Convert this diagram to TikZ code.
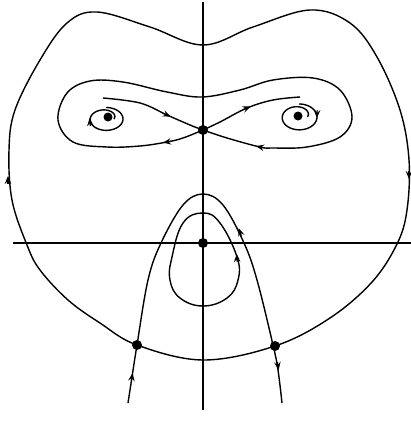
\documentclass[tikz,border=0pt]{standalone}
\usetikzlibrary{arrows.meta}
\tikzset{
  curve/.style={line width=1.4pt, line join=round},
  axis/.style={line width=1.4pt},
  dot/.style={circle, fill=black, inner sep=0pt, minimum size=10pt},
  arr/.style={line width=1.2pt, -{Stealth[length=8pt,width=6.5pt,inset=3pt]}},
}
\newcommand\arrmark[3]{\draw[arr] (#1,#2) ++(#3+180:4pt) -- ++(#3:8pt);}
\begin{document}
\begin{tikzpicture}[x=1pt,y=-1pt]
\useasboundingbox (0,0) rectangle (411,425);
% axes
\coordinate (vtop) at (203,2);
\coordinate (vbot) at (203,410);
\coordinate (hl) at (13,243);
\coordinate (hr) at (411,243);
\draw[axis] (vtop) -- (vbot);
\draw[axis] (hl) -- (hr);
% outer closed curve
\draw[curve] plot[smooth cycle, tension=0.6] coordinates {
 (203,45) (253,27) (310,10) (350,23) (377,57) (400,110) (409,160) (407,210)
 (397,244) (372,282) (330,318) (275,346) (203,360) (137,345) (100,323)
 (68,300) (40,270) (27,245) (12,200) (9,150) (15,110) (40,60) (67,23)
 (97,12) (150,27)};
% loop through saddle
\draw[curve] plot[smooth, tension=0.6] coordinates {
 (203,130) (183,138) (167,142) (140,146) (107,147) (73,142) (58,120) (67,93)
 (90,81) (123,82) (167,92) (202,97) (240,90) (273,80) (313,78) (340,90)
 (352,117) (340,137) (307,147) (273,148) (260,147) (227,138) (203,130)};
% separatrices
\draw[curve] plot[smooth, tension=0.6] coordinates {
 (103,98) (140,103) (167,115) (190,125) (203,130)};
\draw[curve] plot[smooth, tension=0.6] coordinates {
 (203,130) (220,122) (247,108) (273,100) (300,97)};
% spirals
\draw[curve] plot[domain=270:720, samples=160, smooth]
 ({106+17*(1-0.22*((\x-270)/360)^4)*cos(\x)}, {119+11.5*(1-0.22*((\x-270)/360)^4)*sin(\x)});
\draw[curve] plot[domain=270:720, samples=160, smooth]
 ({299+18*(1-0.22*((\x-270)/360)^4)*cos(\x)}, {117+13*(1-0.22*((\x-270)/360)^4)*sin(\x)});
% parabola
\draw[curve] plot[smooth, tension=0.6] coordinates {
 (128,403) (132,377) (137,345) (148,280) (161,243) (183,205) (203,194)
 (223,205) (244,243) (257,280) (273,345) (278,370) (282,403)};
% inner oval
\draw[curve] plot[smooth cycle, tension=0.7] coordinates {
 (203,213) (220,223) (237,257) (238,280) (227,298) (203,306) (180,298)
 (170,280) (172,257) (183,223)};
% dots
\node[dot] (saddle) at (203,130) {};
\node[dot] (origin) at (203,243) {};
\node[dot] (pl) at (137,345) {};
\node[dot] (pr) at (275,346) {};
\node[dot, minimum size=9pt] (fl) at (108,117) {};
\node[dot, minimum size=9pt] (fr) at (298,116) {};
% arrows
\arrmark{8}{180}{90}
\arrmark{409}{175}{-90}
\arrmark{132}{377}{81}
\arrmark{278}{366}{-81}
\arrmark{240}{232}{110}
\arrmark{237}{258}{92}
\arrmark{167}{115}{-24}
\arrmark{247}{108}{22}
\arrmark{167}{142}{-170}
\arrmark{260}{147}{168}
\arrmark{90}{122}{95}
\arrmark{317}{114}{-92}
\end{tikzpicture}
\end{document}
